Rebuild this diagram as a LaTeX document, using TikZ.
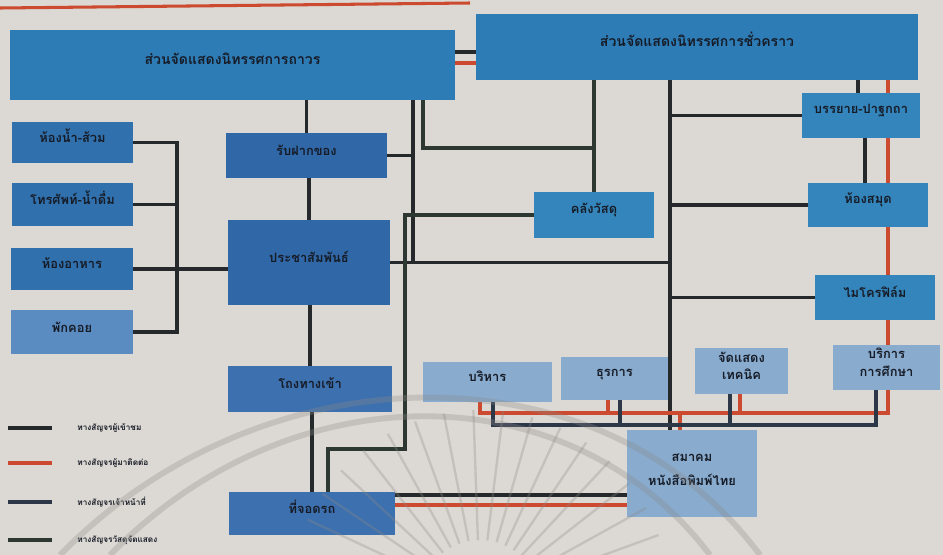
\documentclass[tikz,border=0pt]{standalone}
\usepackage{fontspec}
\newfontfamily\thaifont[Script=Thai]{Loma}
\usetikzlibrary{fit,backgrounds}
\definecolor{paper}{HTML}{DCD8D3}
\definecolor{hallblue}{HTML}{2E7CB6}
\definecolor{roomblue}{HTML}{3070AD}
\definecolor{loungeblue}{HTML}{5A8CC2}
\definecolor{deskblue}{HTML}{3067A6}
\definecolor{sideblue}{HTML}{3485BB}
\definecolor{lobbyblue}{HTML}{3D70AE}
\definecolor{paleblue}{HTML}{88ABCE}
\definecolor{ink}{HTML}{161B26}
\definecolor{visitor}{HTML}{26292B}
\definecolor{contact}{HTML}{CC4A2F}
\definecolor{staff}{HTML}{2C3748}
\definecolor{goods}{HTML}{2C3831}
\definecolor{wmark}{HTML}{8E8B87}
\tikzset{
  unit/.style={fill=#1, inner sep=0pt, text=ink, align=center,
    font=\thaifont\bfseries\fontsize{11}{15}\selectfont},
  walk/.style={draw=visitor, line width=3.4pt},
  visit/.style={draw=contact, line width=3.2pt},
  staffway/.style={draw=staff, line width=3.4pt},
  goodsway/.style={draw=goods, line width=3.4pt},
  keytext/.style={font=\thaifont\bfseries\fontsize{7}{8}\selectfont, text=ink,
    anchor=west, inner sep=1pt},
}
% name, colour, corner, corner, text
\newcommand{\roombox}[5]{%
  \node[unit=#2, fit={(#3) (#4)}] (#1) {#5};
}

\begin{document}
\begin{tikzpicture}[x=0.03cm, y=-0.03cm]
\path[use as bounding box] (0,0) rectangle (943,555);

% exhibition halls
\roombox{perm}{hallblue}{10,30}{455,100}{\fontsize{12}{14}\selectfont ส่วนจัดแสดงนิทรรศการถาวร}
\roombox{temp}{hallblue}{476,14}{918,80}{\fontsize{12}{14}\selectfont ส่วนจัดแสดงนิทรรศการชั่วคราว}

% services on the left
\roombox{toilet}{roomblue}{12,122}{133,163}{ห้องน้ำ-ส้วม}
\roombox{phone}{roomblue}{12,183}{133,226}{โทรศัพท์-น้ำดื่ม}
\roombox{dining}{roomblue}{11,248}{133,290}{ห้องอาหาร}
\roombox{lounge}{loungeblue}{11,310}{133,354}{พักคอย}

\roombox{cloak}{deskblue}{226,133}{387,178}{รับฝากของ}
\roombox{info}{deskblue}{228,220}{390,305}{ประชาสัมพันธ์}
\roombox{store}{sideblue}{534,192}{654,238}{คลังวัสดุ}
\roombox{lecture}{sideblue}{802,93}{920,138}{บรรยาย-ปาฐกถา}
\roombox{library}{sideblue}{808,183}{928,227}{ห้องสมุด}
\roombox{micro}{sideblue}{815,275}{935,320}{ไมโครฟิล์ม}
\roombox{lobby}{lobbyblue}{228,366}{392,412}{โถงทางเข้า}
\roombox{parking}{lobbyblue}{229,492}{395,535}{ที่จอดรถ}

% offices
\roombox{admin}{paleblue}{423,362}{552,402}{บริหาร}
\roombox{clerk}{paleblue}{561,357}{668,400}{ธุรการ}
\roombox{techexh}{paleblue}{695,348}{788,394}{จัดแสดง\\เทคนิค}
\roombox{edu}{paleblue}{833,345}{940,390}{บริการ\\การศึกษา}
\roombox{assoc}{paleblue}{627,430}{757,517}{สมาคม\\[6pt]หนังสือพิมพ์ไทย}

\begin{scope}[on background layer]
  \fill[paper] (0,0) rectangle (943,555);
  \draw[visit, line width=2.6pt] (0,8) -- (470,3);

  % visitors
  \draw[walk] (perm.east |- 0,52) -- (temp.west |- 0,52);
  \draw[walk] (toilet.east) -| (lounge.east -| 177,0) -- (lounge.east);
  \draw[walk] (phone.east) -- (phone.east -| 177,0);
  \draw[walk] (dining.east) -- (dining.east -| info.west);
  \draw[walk] (cloak.north) -- (cloak.north |- perm.south);
  \draw[walk] (info.north) -- (info.north |- cloak.south);
  \draw[walk] (lobby.north) -- (lobby.north |- info.south);
  \draw[walk] (parking.north) -- (parking.north |- lobby.south);
  \draw[walk] (cloak.east) -- (cloak.east -| 413,0);
  \draw[walk] (perm.south -| 413,0) -- (info.east -| 413,0);
  \draw[walk] (info.east) -- (info.east -| 670,0);
  \draw[walk] (temp.south -| 670,0) -- (assoc.north -| 670,0);
  \draw[walk] (lecture.west) -- (lecture.west -| 670,0);
  \draw[walk] (library.west) -- (library.west -| 670,0);
  \draw[walk] (micro.west) -- (micro.west -| 670,0);
  \draw[walk] (lecture.north -| 858,0) -- (temp.south -| 858,0);
  \draw[walk] (library.north -| 865,0) -- (lecture.south -| 865,0);
  \draw[walk] (parking.east |- 0,495) -- (assoc.west |- 0,495);

  % people coming to see staff
  \draw[visit] (perm.east |- 0,63) -- (temp.west |- 0,63);
  \draw[visit] (parking.east |- 0,505) -- (assoc.west |- 0,505);
  \draw[visit] (temp.south -| 888,0) -- (888,413) -| (admin.south -| 480,0);
  \draw[visit] (clerk.south -| 608,0) -- (608,413);
  \draw[visit] (techexh.south -| 740,0) -- (740,413);
  \draw[visit] (assoc.north -| 680,0) -- (680,413);

  % staff
  \draw[staffway] (admin.south -| 493,0) -- (493,425) -| (edu.south -| 876,0);
  \draw[staffway] (clerk.south -| 620,0) -- (620,425);
  \draw[staffway] (techexh.south -| 730,0) -- (730,425);

  % exhibits
  \draw[goodsway] (store.north) -- (store.north |- temp.south);
  \draw[goodsway] (perm.south -| 423,0) |- (store.north |- 0,148);
  \draw[goodsway] (store.west) -| (405,449) -| (parking.north -| 328,0);
\end{scope}

% key
\foreach \y/\c/\t [count=\k] in {428/visitor/ทางสัญจรผู้เข้าชม, 463/contact/ทางสัญจรผู้มาติดต่อ,
    502/staff/ทางสัญจรเจ้าหน้าที่, 540/goods/ทางสัญจรวัสดุจัดแสดง}{
  \draw[draw=\c, line width=4pt] (8,\y) -- (52,\y);
  \node[keytext] (key\k) at (76,\y) {\t};
}

% faint emblem over the chart
\begin{scope}[draw=wmark, opacity=0.3, line width=5pt]
  \draw (60,555) .. controls (260,350) and (600,340) .. (760,555);
  \draw (110,555) .. controls (290,370) and (570,370) .. (710,555);
  \foreach \a in {20,29,...,160}{
    \draw[line width=2pt] (480,600) ++(-\a:60) -- ++(-\a:130);
  }
\end{scope}
\end{tikzpicture}
\end{document}
